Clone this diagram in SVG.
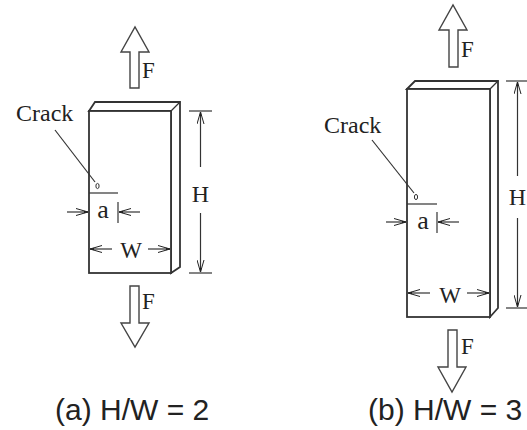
<svg xmlns="http://www.w3.org/2000/svg" width="527" height="430" viewBox="0 0 527 430">
<defs>
<marker id="ah" viewBox="0 0 12 8" refX="12" refY="4" markerWidth="12" markerHeight="8" markerUnits="userSpaceOnUse" orient="auto">
<path d="M0,0.5 L12,4 L0,7.5" fill="none" stroke="#222" stroke-width="1"/>
<path d="M8,2.8 L12,4 L8,5.2 Z" fill="#222"/>
</marker>
</defs>
<style>
.blk{fill:#fff;stroke:#333;stroke-width:1.8;stroke-linejoin:miter}
.ln{stroke:#333;stroke-width:1.2;fill:none}
.dim{stroke:#333;stroke-width:1.2;fill:none;marker-end:url(#ah)}
.force{fill:#fff;stroke:#444;stroke-width:1.4}
.t{font-family:"Liberation Serif","Times New Roman",serif;fill:#222}
.cap{font-family:"Liberation Sans",Arial,sans-serif;font-size:30px;fill:#222}
</style>
<rect width="527" height="430" fill="#fff"/>

<g id="figA">
<g id="a-block">
<path class="blk" d="M89,111 L95,102 L180,102 L180,267 L171,273 L171,111 Z"/>
<rect class="blk" x="89" y="111" width="82" height="162"/>
<line class="ln" x1="171" y1="111" x2="180" y2="102"/>
</g>
<g id="a-force-up"><path class="force" d="M130,88 L130,52 L121,52 L135,27 L149,52 L139,52 L139,88 Z"/><text class="t" x="142" y="78" font-size="23">F</text></g>
<g id="a-force-down"><path class="force" d="M130,286 L130,323 L121,323 L135,347 L149,323 L139,323 L139,286 Z"/><text class="t" x="142" y="309" font-size="23">F</text></g>
<g id="a-crack">
<text class="t" x="16" y="121" font-size="24">Crack</text>
<line class="ln" x1="55" y1="130" x2="95" y2="182"/>
<ellipse cx="97.5" cy="186" rx="1.6" ry="2.6" fill="none" stroke="#333" stroke-width="1"/>
<line class="ln" x1="89" y1="193" x2="118" y2="193"/>
</g>
<g id="a-dims">
<line class="ln" x1="189" y1="111" x2="212" y2="111"/>
<line class="ln" x1="189" y1="273" x2="212" y2="273"/>
<line class="dim" x1="200.5" y1="167" x2="200.5" y2="112"/>
<line class="dim" x1="200.5" y1="213" x2="200.5" y2="272"/>
<text class="t" x="200.5" y="202" font-size="24" text-anchor="middle">H</text>
<line class="ln" x1="118" y1="202" x2="118" y2="223"/>
<line class="dim" x1="67" y1="212" x2="88" y2="212"/>
<line class="dim" x1="140" y1="212" x2="119" y2="212"/>
<text class="t" x="103" y="218" font-size="26" text-anchor="middle">a</text>
<line class="dim" x1="112" y1="249" x2="90" y2="249"/>
<line class="dim" x1="148" y1="249" x2="170" y2="249"/>
<text class="t" x="131" y="258" font-size="23" text-anchor="middle">W</text>
</g>
<text class="cap" x="55" y="420">(a) H/W = 2</text>
</g>

<g id="figB">
<g id="b-block">
<path class="blk" d="M407,89 L415,81 L498,81 L498,308 L490,317 L490,89 Z"/>
<rect class="blk" x="407" y="89" width="83" height="228"/>
<line class="ln" x1="490" y1="89" x2="498" y2="81"/>
</g>
<g id="b-force-up"><path class="force" d="M449,67 L449,30 L439,30 L453,5 L467,30 L458,30 L458,67 Z"/><text class="t" x="461" y="57" font-size="23">F</text></g>
<g id="b-force-down"><path class="force" d="M448,330 L448,367 L438,367 L452,392 L466,367 L457,367 L457,330 Z"/><text class="t" x="461" y="354" font-size="23">F</text></g>
<g id="b-crack">
<text class="t" x="324" y="133" font-size="24">Crack</text>
<line class="ln" x1="372" y1="140" x2="414" y2="193"/>
<ellipse cx="416" cy="197" rx="1.6" ry="2.6" fill="none" stroke="#333" stroke-width="1"/>
<line class="ln" x1="407" y1="204" x2="437" y2="204"/>
</g>
<g id="b-dims">
<line class="ln" x1="506" y1="81" x2="530" y2="81"/>
<line class="ln" x1="506" y1="308" x2="530" y2="308"/>
<line class="dim" x1="517.5" y1="176" x2="517.5" y2="82"/>
<line class="dim" x1="517.5" y1="218" x2="517.5" y2="307"/>
<text class="t" x="517.5" y="205" font-size="24" text-anchor="middle">H</text>
<line class="ln" x1="437" y1="212" x2="437" y2="233"/>
<line class="dim" x1="386" y1="222" x2="406" y2="222"/>
<line class="dim" x1="459" y1="222" x2="438" y2="222"/>
<text class="t" x="423" y="229" font-size="26" text-anchor="middle">a</text>
<line class="dim" x1="430" y1="293" x2="408" y2="293"/>
<line class="dim" x1="467" y1="293" x2="489" y2="293"/>
<text class="t" x="450" y="303" font-size="23" text-anchor="middle">W</text>
</g>
<text class="cap" x="368" y="420">(b) H/W = 3</text>
</g>
</svg>
